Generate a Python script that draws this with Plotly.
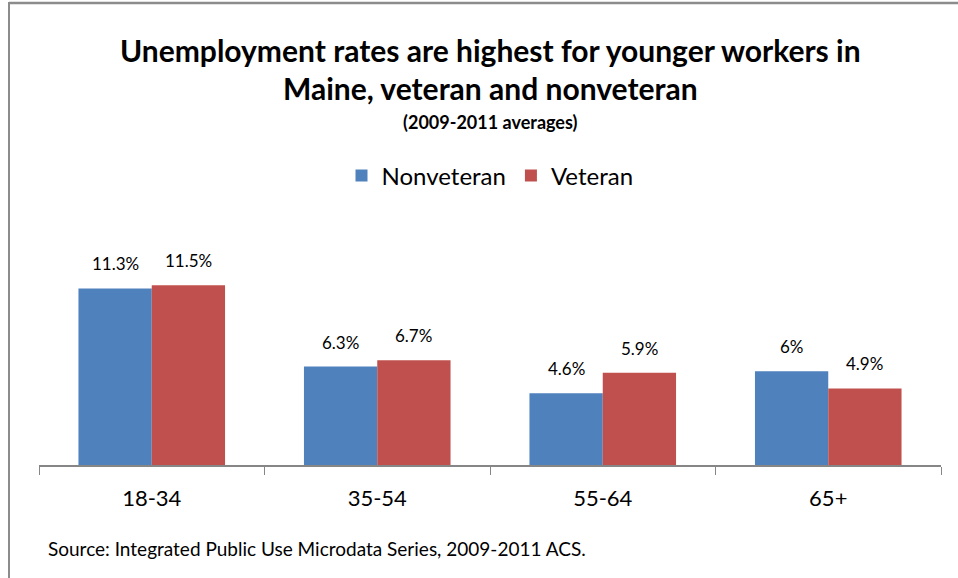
import plotly.graph_objects as go

categories = ["18-34", "35-54", "55-64", "65+"]
nonveteran = [11.3, 6.3, 4.6, 6.0]
veteran = [11.5, 6.7, 5.9, 4.9]
nonveteran_labels = ["11.3%", "6.3%", "4.6%", "6%"]
veteran_labels = ["11.5%", "6.7%", "5.9%", "4.9%"]

FONT = "Lato"
BLUE = "#4F81BD"
RED = "#C0504D"

W, H = 958, 578
ML, MR, MT, MB = 39, 17, 200, 113
PW = W - ML - MR
PH = H - MT - MB


def px_x(px):
    return (px - ML) / PW


def px_y(py):
    return (H - MB - py) / PH


fig = go.Figure()
fig.add_trace(go.Bar(name="Nonveteran", x=categories, y=nonveteran,
                     marker=dict(color=BLUE, line=dict(width=0))))
fig.add_trace(go.Bar(name="Veteran", x=categories, y=veteran,
                     marker=dict(color=RED, line=dict(width=0))))

annotations = []
for i, c in enumerate(categories):
    annotations.append(dict(x=c, y=nonveteran[i], text=nonveteran_labels[i],
                            xshift=-36.5, yshift=12, showarrow=False,
                            yanchor="bottom", font=dict(family=FONT, size=17, color="#000")))
    annotations.append(dict(x=c, y=veteran[i], text=veteran_labels[i],
                            xshift=36.5, yshift=12, showarrow=False,
                            yanchor="bottom", font=dict(family=FONT, size=17, color="#000")))

annotations += [
    dict(xref="paper", yref="paper", x=px_x(490), y=px_y(50),
         text="<b>Unemployment rates are highest for younger workers in</b>",
         showarrow=False, xanchor="center", yanchor="middle",
         font=dict(family=FONT, size=30, color="#000")),
    dict(xref="paper", yref="paper", x=px_x(490), y=px_y(88),
         text="<b>Maine, veteran and nonveteran</b>",
         showarrow=False, xanchor="center", yanchor="middle",
         font=dict(family=FONT, size=30, color="#000")),
    dict(xref="paper", yref="paper", x=px_x(490), y=px_y(122),
         text="<b>(2009-2011 averages)</b>",
         showarrow=False, xanchor="center", yanchor="middle",
         font=dict(family=FONT, size=18, color="#000")),
    dict(xref="paper", yref="paper", x=px_x(46), y=px_y(548),
         text="Source: Integrated Public Use Microdata Series, 2009-2011 ACS.",
         showarrow=False, xanchor="left", yanchor="middle",
         font=dict(family=FONT, size=19, color="#000")),
]

shapes = [
    dict(type="line", xref="paper", yref="paper", x0=px_x(9), x1=px_x(958),
         y0=px_y(3), y1=px_y(3), line=dict(color="#8c8c8c", width=2.5)),
    dict(type="line", xref="paper", yref="paper", x0=px_x(9), x1=px_x(9),
         y0=px_y(2), y1=px_y(578), line=dict(color="#8c8c8c", width=2)),
]

fig.update_layout(
    width=W, height=H,
    margin=dict(l=ML, r=MR, t=MT, b=MB),
    paper_bgcolor="white", plot_bgcolor="white",
    barmode="group", bargap=0.35, bargroupgap=0,
    showlegend=True,
    legend=dict(orientation="h", x=0.5, xanchor="center", y=px_y(176), yanchor="middle",
                font=dict(family=FONT, size=24, color="#000"), itemwidth=30,
                traceorder="normal", bgcolor="rgba(0,0,0,0)"),
    annotations=annotations,
    shapes=shapes,
    font=dict(family=FONT),
)
fig.update_xaxes(showline=True, linecolor="#868686", linewidth=1.5,
                 ticks="outside", tickson="boundaries", ticklen=8, tickcolor="#868686",
                 tickfont=dict(family=FONT, size=22, color="#000"),
                 ticklabelstandoff=13, showgrid=False, range=[-0.5, 3.5])
fig.update_yaxes(visible=False, range=[0, 16.96], showgrid=False)

fig.write_html("out.html", config={"displayModeBar": False},
               post_script="document.body.style.margin='0';document.body.style.overflow='hidden';")
